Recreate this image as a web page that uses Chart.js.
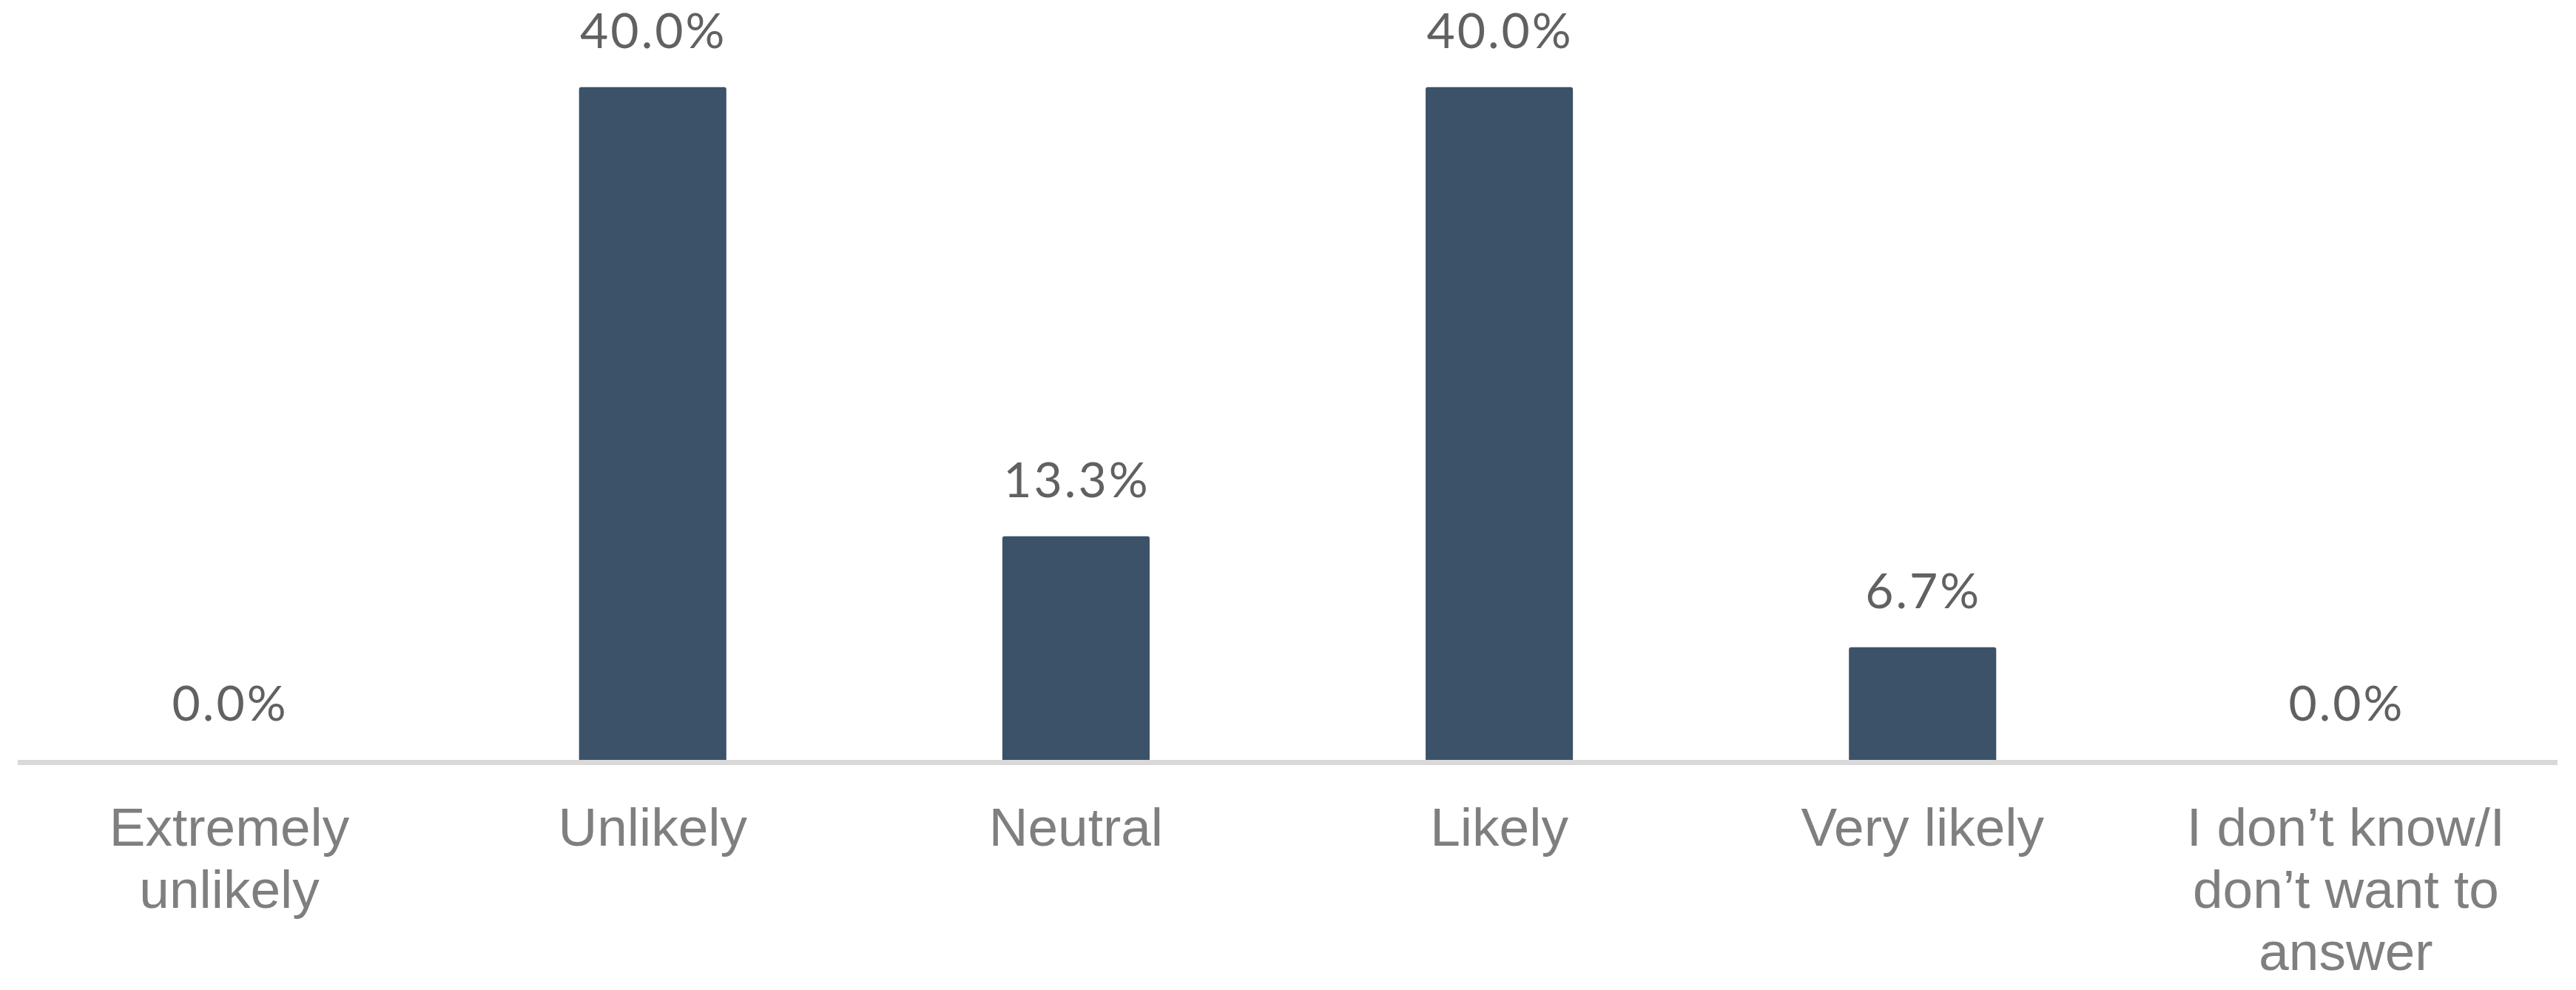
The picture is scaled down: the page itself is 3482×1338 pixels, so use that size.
<!DOCTYPE html>
<html>
<head>
<meta charset="utf-8">
<script src="https://cdn.jsdelivr.net/npm/chart.js@4/dist/chart.umd.min.js"></script>
<style>
  body { margin: 0; background: #fff; }
  #wrap { width: 3482px; height: 1338px; }
</style>
</head>
<body>
<div id="wrap"><canvas id="myChart" width="3482" height="1338"></canvas></div>
<script>
  const categories = [
    ['Extremely', 'unlikely'],
    ['Unlikely'],
    ['Neutral'],
    ['Likely'],
    ['Very likely'],
    ['I don\u2019t know/I', 'don\u2019t want to', 'answer']
  ];
  const shares = [0.0, 40.0, 13.3, 40.0, 6.7, 0.0];

  // value labels above bars + baseline rule under them
  const barLabels = {
    id: 'barLabels',
    afterDatasetsDraw(chart) {
      const {ctx, chartArea: {left, right}, scales: {y}} = chart;
      const zero = y.getPixelForValue(0);

      ctx.save();
      ctx.fillStyle = '#d9d9d9';
      ctx.fillRect(left, zero, right - left, 7);

      ctx.font = '66px Lato';
      ctx.letterSpacing = '3px';
      ctx.fillStyle = '#616161';
      ctx.textAlign = 'center';
      ctx.textBaseline = 'alphabetic';
      chart.getDatasetMeta(0).data.forEach((bar, i) => {
        ctx.fillText(shares[i].toFixed(1) + '%', bar.x + 1, bar.y - 53);
      });
      ctx.restore();
    }
  };

  const config = {
    type: 'bar',
    data: {
      labels: categories,
      datasets: [{
        data: shares,
        backgroundColor: '#3c5269',
        borderWidth: 0,
        borderRadius: {topLeft: 3, topRight: 3},
        borderSkipped: 'bottom',
        categoryPercentage: 1,
        barPercentage: 0.348
      }]
    },
    options: {
      responsive: false,
      animation: false,
      devicePixelRatio: 1,
      layout: {
        padding: {left: 24, right: 25, top: 4, bottom: 0}
      },
      plugins: {
        legend: {display: false},
        tooltip: {enabled: false}
      },
      scales: {
        x: {
          grid: {display: false, drawTicks: false},
          border: {display: false},
          ticks: {
            color: '#7f7f7f',
            font: {family: '"Liberation Sans", Arial, sans-serif', size: 73, lineHeight: 1.15},
            padding: 54,
            maxRotation: 0,
            autoSkip: false
          },
          afterFit(scale) {
            scale.height = 311;
          }
        },
        y: {
          display: false,
          min: 0,
          max: 45
        }
      }
    },
    plugins: [barLabels]
  };

  const myChart = new Chart(document.getElementById('myChart'), config);
</script>
</body>
</html>
